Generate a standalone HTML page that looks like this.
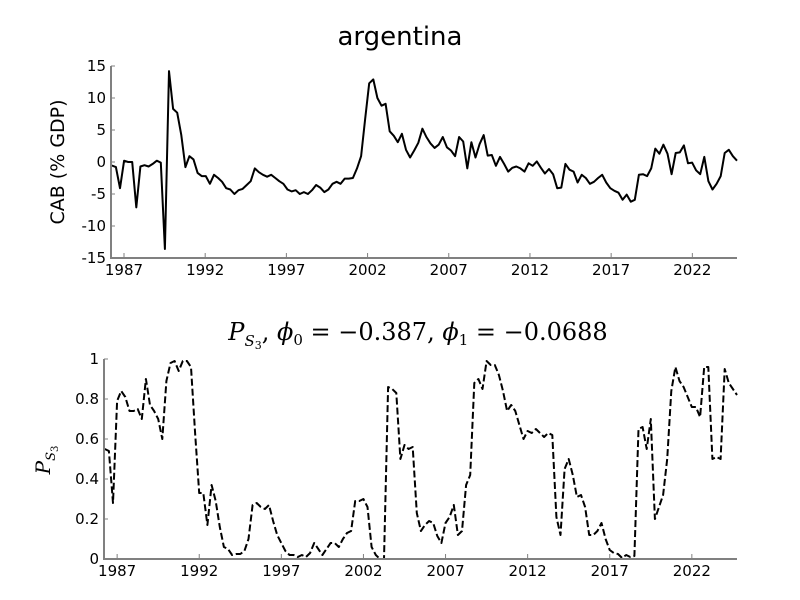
<!DOCTYPE html>
<html><head><meta charset="utf-8"><style>
body{margin:0;background:#fff;width:800px;height:600px;overflow:hidden}
svg{display:block}
text{font-family:"DejaVu Sans","Liberation Sans",sans-serif;fill:#000}
</style></head><body>
<svg id="chart" width="800" height="600" viewBox="0 0 800 600">
<text x="400" y="45" text-anchor="middle" font-size="26">argentina</text>
<text transform="translate(64,162) rotate(-90)" text-anchor="middle" font-size="19">CAB (% GDP)</text>
<text x="418" y="340" text-anchor="middle" font-size="24" style="font-family:'DejaVu Serif','Liberation Serif',serif"><tspan font-style="italic">P</tspan><tspan font-style="italic" font-size="15" dy="6">S</tspan><tspan font-size="11" dy="3">3</tspan><tspan dy="-9">, </tspan><tspan font-style="italic">ϕ</tspan><tspan font-size="15" dy="5">0</tspan><tspan dy="-5"> = −0.387, </tspan><tspan font-style="italic">ϕ</tspan><tspan font-size="15" dy="5">1</tspan><tspan dy="-5"> = −0.0688</tspan></text>
<text transform="translate(50,460) rotate(-90)" text-anchor="middle" font-size="20" style="font-family:'DejaVu Serif','Liberation Serif',serif"><tspan font-style="italic">P</tspan><tspan font-style="italic" font-size="13" dy="5">S</tspan><tspan font-size="10" dy="3">3</tspan></text>
<g id="top"></g>
<g id="bot"></g>
</svg>
<script>
const topVals=[-0.55,-0.8,-4.1,0.2,0,0,-7.1,-0.7,-0.5,-0.7,-0.3,0.2,-0.1,-13.6,14.2,8.3,7.7,4.2,-0.8,0.9,0.4,-1.7,-2.2,-2.2,-3.4,-2.0,-2.5,-3.1,-4.1,-4.3,-5.0,-4.4,-4.2,-3.6,-3.0,-1.0,-1.6,-2.0,-2.3,-2.0,-2.5,-3.0,-3.4,-4.3,-4.6,-4.4,-5.0,-4.7,-5.0,-4.4,-3.6,-4.0,-4.7,-4.3,-3.4,-3.1,-3.4,-2.6,-2.6,-2.5,-1.0,0.9,6.8,12.3,12.9,10.0,8.8,9.1,4.8,4.1,3.1,4.4,1.9,0.7,1.8,3.0,5.2,3.9,2.9,2.2,2.7,3.9,2.3,1.8,0.9,3.9,3.2,-1.0,3.1,0.7,2.8,4.2,1.0,1.1,-0.6,0.8,-0.3,-1.5,-0.9,-0.7,-1.0,-1.5,-0.2,-0.6,0.1,-0.9,-1.8,-1.1,-1.9,-4.1,-4.0,-0.3,-1.2,-1.5,-3.2,-2.0,-2.5,-3.4,-3.1,-2.5,-2.0,-3.2,-4.1,-4.5,-4.8,-5.9,-5.1,-6.2,-5.9,-2.0,-1.9,-2.2,-1.0,2.1,1.3,2.7,1.3,-1.9,1.4,1.5,2.6,-0.2,-0.1,-1.3,-1.9,0.8,-3.0,-4.3,-3.4,-2.2,1.4,1.9,0.9,0.2];
const botVals=[0.55,0.54,0.28,0.79,0.84,0.81,0.74,0.74,0.75,0.70,0.90,0.77,0.74,0.70,0.60,0.89,0.98,0.99,0.94,0.99,0.99,0.96,0.63,0.33,0.33,0.17,0.37,0.29,0.16,0.06,0.05,0.02,0.025,0.025,0.04,0.10,0.27,0.28,0.26,0.25,0.27,0.19,0.12,0.08,0.04,0.02,0.02,0.01,0.02,0.01,0.03,0.08,0.05,0.02,0.05,0.08,0.08,0.06,0.10,0.13,0.14,0.29,0.29,0.30,0.26,0.06,0.02,0.0,0.0,0.86,0.85,0.83,0.50,0.57,0.55,0.56,0.23,0.14,0.17,0.19,0.18,0.115,0.08,0.18,0.21,0.27,0.12,0.14,0.37,0.42,0.88,0.90,0.85,0.99,0.97,0.97,0.92,0.84,0.74,0.77,0.74,0.67,0.60,0.64,0.63,0.65,0.63,0.61,0.63,0.62,0.21,0.12,0.45,0.50,0.42,0.31,0.32,0.26,0.12,0.12,0.14,0.18,0.10,0.045,0.03,0.025,0.005,0.02,0.01,0.015,0.65,0.66,0.55,0.70,0.20,0.26,0.32,0.50,0.84,0.96,0.89,0.86,0.81,0.76,0.76,0.71,0.96,0.96,0.50,0.51,0.50,0.95,0.88,0.85,0.82];
const startYear=1986.25, endYear=2024.75;
const xTicks=[1987,1992,1997,2002,2007,2012,2017,2022];
const topYTicks=[15,10,5,0,-5,-10,-15];
const botYTicks=[1,0.8,0.6,0.4,0.2,0];
const topYTickLabels=["15","10","5","0","-5","-10","-15"];
const botYTickLabels=["1","0.8","0.6","0.4","0.2","0"];
const NS='http://www.w3.org/2000/svg';
function mk(p,tag,attrs){const e=document.createElementNS(NS,tag);for(const k in attrs)e.setAttribute(k,attrs[k]);p.appendChild(e);return e;}
function panel(g,vals,yTicks,yLabels,L,R,T,B,ymin,ymax,dash,pfx){
  const xmin=1986.2,xmax=2024.75;
  const sx=v=>L+(v-xmin)/(xmax-xmin)*(R-L);
  const sy=v=>B-(v-ymin)/(ymax-ymin)*(B-T);
  const n=vals.length;
  const dates=vals.map((_,i)=>startYear+i*(endYear-startYear)/(n-1));
  let d='';vals.forEach((v,i)=>{d+=(i?'L':'M')+sx(dates[i]).toFixed(1)+','+sy(v).toFixed(1);});
  const ln=mk(g,'path',{d:d,fill:'none',stroke:'#000','stroke-width':2,'stroke-linejoin':'round'});
  if(dash)ln.setAttribute('stroke-dasharray','7,3');
  
  
  const ax=mk(g,'path',{d:`M${L},${T}V${B}H${R}`,fill:'none',stroke:'#808080','stroke-width':2});
  
  
  xTicks.forEach(t=>{const x=sx(t);
    mk(g,'line',{x1:x,x2:x,y1:B,y2:B-5,stroke:'#808080','stroke-width':1});
    const tx=mk(g,'text',{x:x,y:B+17,'text-anchor':'middle','font-size':15});tx.textContent=t;
    
    });
  yTicks.forEach((t,i)=>{const y=sy(t);
    mk(g,'line',{x1:L,x2:L+4,y1:y,y2:y,stroke:'#808080','stroke-width':1});
    const tx=mk(g,'text',{x:L-5,y:y+5,'text-anchor':'end','font-size':15});tx.textContent=yLabels[i];
    
    });
}
panel(document.getElementById('top'),topVals,topYTicks,topYTickLabels,111,737,66,258,-15,15,false,'top');
panel(document.getElementById('bot'),botVals,botYTicks,botYTickLabels,104,737,359,559,0,1,true,'bottom');
</script>
</body></html>
